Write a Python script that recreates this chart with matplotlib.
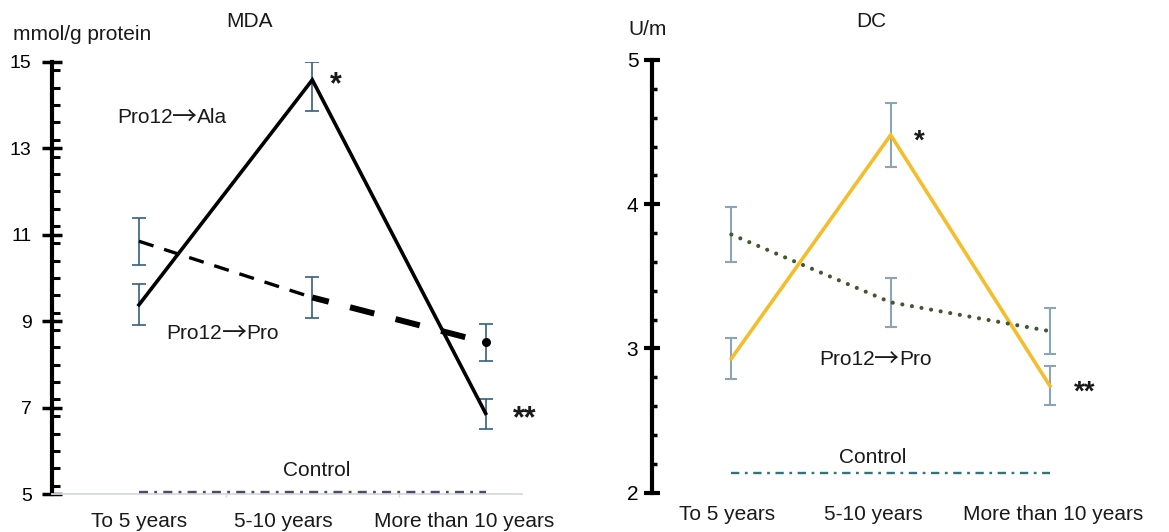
import matplotlib
matplotlib.use("Agg")
import matplotlib.pyplot as plt
from matplotlib.ticker import MultipleLocator, FixedLocator

plt.rcParams['font.family'] = ['Liberation Sans', 'DejaVu Sans']
plt.rcParams['lines.scale_dashes'] = False

# ---------------- data ----------------
categories = ["To 5 years", "5-10 years", "More than 10 years"]

# MDA (mmol/g protein)
mda_ala = [9.38, 14.58, 6.87]
mda_ala_err_lo = [0.47, 0.71, 0.35]
mda_ala_err_hi = [0.47, 0.41, 0.34]
mda_pro = [10.85, 9.55, 8.51]
mda_pro_err = [0.54, 0.47, 0.43]
mda_control = 5.06
mda_yticks = [5, 7, 9, 11, 13, 15]

# DC (U/m)
dc_ala = [2.93, 4.48, 2.74]
dc_ala_err = [0.145, 0.225, 0.135]
dc_pro = [3.79, 3.32, 3.12]
dc_pro_err = [0.19, 0.17, 0.16]
dc_control = 2.14
dc_yticks = [2, 3, 4, 5]

# ---------------- figure ----------------
W, H = 1169, 532
fig = plt.figure(figsize=(W / 100, H / 100), dpi=100)


def rect(l, r, t, b):
    return [l / W, 1 - b / H, (r - l) / W, (b - t) / H]


def ftxt(xp, yp, s, **kw):
    return fig.text(xp / W, 1 - yp / H, s, **kw)


def arrow_label(xp, yp, left, right, fs=15, color="#1a1a1a"):
    """Label 'left→right' with a long thin arrow glyph."""
    t1 = ftxt(xp, yp, left, ha="left", va="baseline", fontsize=fs, color=color)
    t2 = fig.text(0, 0, "→", family=["Noto Sans CJK SC", "DejaVu Sans"],
                  fontsize=fs + 3, color=color, ha="left", va="baseline")
    t3 = fig.text(0, 0, right, fontsize=fs, color=color, ha="left", va="baseline")
    fig.canvas.draw()
    r = fig.canvas.get_renderer()
    b1 = t1.get_window_extent(r)
    t2.set_position(((b1.x1 - 0.5) / W, 1 - (yp + 2.0) / H))
    b2 = t2.get_window_extent(r)
    t3.set_position(((b2.x1 - 0.5) / W, 1 - yp / H))


axL = fig.add_axes(rect(52.3, 572.3, 61.7, 494.3))
axR = fig.add_axes(rect(651.7, 1129.6, 60.0, 492.7))

x = list(range(len(categories)))

# ---------- left panel: MDA ----------
axL.set_xlim(-0.5, 2.5)
axL.set_ylim(mda_yticks[0], mda_yticks[-1])
for s in ("top", "right"):
    axL.spines[s].set_visible(False)
axL.spines["left"].set_linewidth(3)
axL.spines["bottom"].set_color("#d3dbdf")
axL.spines["bottom"].set_linewidth(1.3)
axL.spines["bottom"].set_bounds(-0.5, 2.21)

axL.set_yticks(mda_yticks)
axL.yaxis.set_minor_locator(MultipleLocator(0.4))
axL.tick_params(axis="y", which="major", direction="inout", length=14.4,
                width=2.5, pad=7.6, labelsize=14, colors="black")
axL.tick_params(axis="y", which="minor", direction="in", length=5.5, width=2.2)

axL.set_xticks([0, 0.835, 1.877], labels=categories)
axL.xaxis.set_minor_locator(FixedLocator([0.5, 1.5]))
axL.tick_params(axis="x", which="major", length=0, pad=12.7, labelsize=15,
                labelcolor="#1a1a1a")
axL.tick_params(axis="x", which="minor", direction="out", length=2.5,
                width=1.0, color="#d3dbdf")

axL.errorbar(x, mda_ala, yerr=[mda_ala_err_lo, mda_ala_err_hi], fmt="none",
             ecolor="#35607e", elinewidth=1.2, capsize=4.7, capthick=1.2, zorder=2)
axL.errorbar(x, mda_pro, yerr=mda_pro_err, fmt="none",
             ecolor="#35607e", elinewidth=1.2, capsize=4.7, capthick=1.2, zorder=2)
axL.plot(x, mda_ala, color="black", lw=2.6, solid_joinstyle="miter", zorder=3)
axL.plot(x[0:2], mda_pro[0:2], color="black", lw=2.4,
         linestyle=(0, (11, 8)), dash_capstyle="butt", zorder=3)
axL.plot(x[1:3], mda_pro[1:3], color="black", lw=4.3,
         linestyle=(5.76, (18, 15.84)), dash_capstyle="butt", zorder=3)
axL.plot(x[2:3], mda_pro[2:3], "o", color="black", ms=5.5, zorder=4)
axL.plot([x[0], x[-1]], [mda_control, mda_control], color="#4d4a64", lw=1.7,
         linestyle=(0, (6.5, 4.5, 2, 4.5)), zorder=3)

# ---------- right panel: DC ----------
axR.set_xlim(-0.5, 2.5)
axR.set_ylim(dc_yticks[0], dc_yticks[-1])
for s in ("top", "right", "bottom"):
    axR.spines[s].set_visible(False)
axR.spines["left"].set_linewidth(3)

axR.set_yticks(dc_yticks)
axR.yaxis.set_minor_locator(MultipleLocator(0.2))
axR.tick_params(axis="y", which="major", direction="inout", length=11,
                width=3, pad=4.1, labelsize=15)
axR.tick_params(axis="y", which="minor", direction="in", length=3.6, width=2.5)
axR.set_xticks([-0.03, 0.89, 2.02], labels=categories)
axR.tick_params(axis="x", which="both", length=0, pad=8.9, labelsize=15,
                labelcolor="#1a1a1a")

axR.errorbar(x, dc_ala, yerr=dc_ala_err, fmt="none", ecolor="#8ba5b5",
             elinewidth=1.5, capsize=4.3, capthick=1.5, zorder=2)
axR.errorbar(x, dc_pro, yerr=dc_pro_err, fmt="none", ecolor="#8ba5b5",
             elinewidth=1.5, capsize=4.3, capthick=1.5, zorder=2)
axR.plot(x, dc_ala, color="#f5bd2b", lw=2.6, solid_joinstyle="miter", zorder=3)
axR.plot(x, dc_pro, color="#43572f", lw=3.0, linestyle=(0, (0.01, 7.0)),
         dash_capstyle="round", zorder=3)
axR.plot([x[0], x[-1]], [dc_control, dc_control], color="#2f7580", lw=1.7,
         linestyle=(0, (6, 4, 2, 4)), zorder=3)

# ---------- texts ----------
tc = "#1a1a1a"
ftxt(249, 26.7, "MDA", ha="center", va="baseline", fontsize=15, color=tc)
ftxt(871, 26.7, "DC", ha="center", va="baseline", fontsize=15, color=tc)
ftxt(13, 39.5, "mmol/g protein", ha="left", va="baseline", fontsize=15, color=tc)
ftxt(628.3, 35, "U/m", ha="left", va="baseline", fontsize=15, color=tc)

arrow_label(117.3, 122.7, "Pro12", "Ala")
arrow_label(166.7, 339.3, "Pro12", "Pro")
ftxt(283.3, 476, "Control", ha="left", va="baseline", fontsize=15, color=tc)
ftxt(336.2, 93.2, "*", ha="center", va="baseline", fontsize=22, fontweight="bold", color=tc)
ftxt(513.3, 427.7, "**", ha="left", va="baseline", fontsize=22, fontweight="bold", color=tc)

arrow_label(819.3, 365, "Pro12", "Pro")
ftxt(839.3, 463.3, "Control", ha="left", va="baseline", fontsize=15, color=tc)
ftxt(919.3, 148.4, "*", ha="center", va="baseline", fontsize=20, fontweight="bold", color=tc)
ftxt(1074, 399.4, "**", ha="left", va="baseline", fontsize=20, fontweight="bold", color=tc)

fig.savefig("out.png", dpi=100)
